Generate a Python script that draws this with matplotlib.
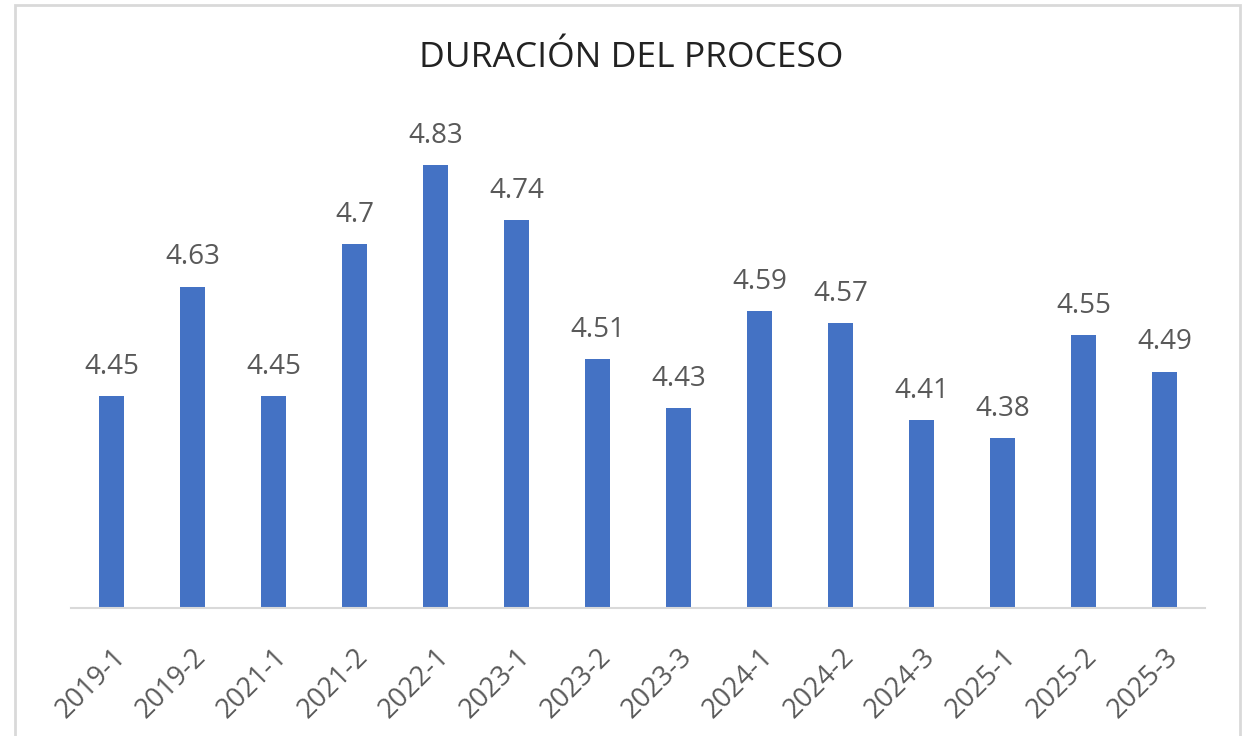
import matplotlib.pyplot as plt
from matplotlib.patches import Rectangle

periodos = ['2019-1', '2019-2', '2021-1', '2021-2', '2022-1', '2023-1', '2023-2',
            '2023-3', '2024-1', '2024-2', '2024-3', '2025-1', '2025-2', '2025-3']
duracion = [4.45, 4.63, 4.45, 4.7, 4.83, 4.74, 4.51, 4.43, 4.59, 4.57, 4.41, 4.38, 4.55, 4.49]
etiquetas = ['4.45', '4.63', '4.45', '4.7', '4.83', '4.74', '4.51', '4.43', '4.59',
             '4.57', '4.41', '4.38', '4.55', '4.49']

plt.rcParams['font.family'] = ['Open Sans', 'DejaVu Sans']
gris = '#595959'

fig = plt.figure(figsize=(12.48, 7.36), dpi=100)
ax = fig.add_axes([71 / 1248, 1 - 608 / 736, (1205 - 71) / 1248, (608 - 123) / 736])

x = range(len(periodos))
barras = ax.bar(x, duracion, width=0.32, color='#4472C4')

for b, txt in zip(barras, etiquetas):
    ax.annotate(txt, (b.get_x() + b.get_width() / 2, b.get_height()),
                xytext=(0, 16), textcoords='offset points',
                ha='center', va='baseline', fontsize=20, color=gris)

ax.set_xlim(-0.5, len(periodos) - 0.5)
ax.set_ylim(4.1, 4.9)
ax.set_yticks([])
ax.set_xticks(list(x))
ax.set_xticklabels(periodos, rotation=45, ha='right', rotation_mode='anchor',
                   fontsize=19.5, color=gris)
ax.tick_params(axis='x', length=0, pad=25)

for s in ['left', 'right', 'top']:
    ax.spines[s].set_visible(False)
ax.spines['bottom'].set_color('#D9D9D9')
ax.spines['bottom'].set_linewidth(1.5)

fig.text(631 / 1248, 1 - 67 / 736, 'DURACIÓN DEL PROCESO', ha='center', va='baseline',
         fontsize=25.5, color='#222222')

# borde del area del grafico
fig.patches.append(Rectangle((15 / 1248, -0.1), (1240 - 15) / 1248, 1.1 - 5 / 736,
                             transform=fig.transFigure, fill=False,
                             edgecolor='#D9D9D9', linewidth=2))

fig.savefig('out.png', dpi=100)
